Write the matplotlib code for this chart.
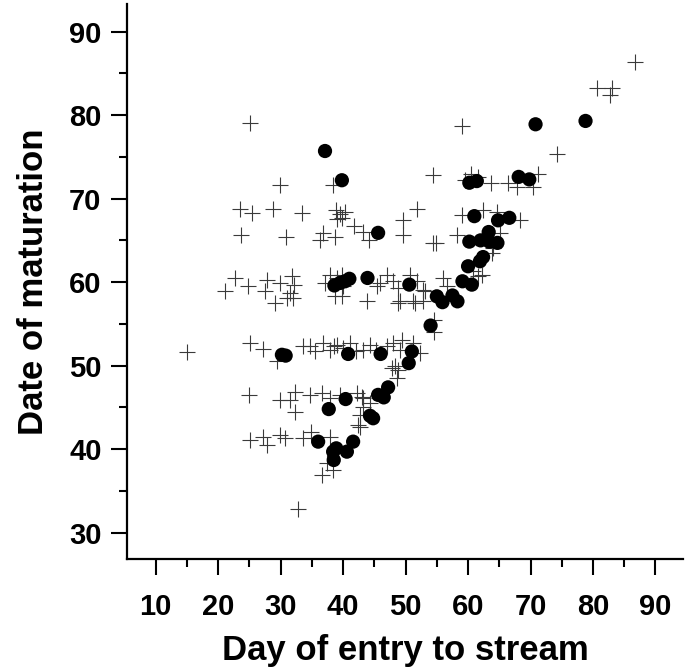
import matplotlib
matplotlib.use("Agg")
import matplotlib.pyplot as plt
from matplotlib.ticker import MultipleLocator

# Crosses (all fish): day of entry, date of maturation
cross_x = [86.7, 80.6, 83.1, 82.7, 74.3, 59.1, 25.1,
           29.9, 38.3, 54.4, 59.5, 60.5, 61.6, 63.6, 66.4, 67.8, 71.2, 70.4,
           23.5, 25.4, 28.8, 33.4, 38.8, 39.5, 40.3, 39.0, 39.8, 41.7, 43.2, 44.1, 49.6, 51.8, 59.0, 62.4, 64.6, 68.3,
           23.6, 30.8, 36.3, 38.7, 36.8, 49.6, 58.2, 54.4, 54.9, 65.1, 64.0, 63.8, 61.6,
           21.1, 22.7, 24.8, 27.8, 27.5, 29.9, 31.8, 31.5, 32.2, 29.1, 31.0, 32.0,
           37.1, 37.9, 39.0, 39.8, 40.0, 38.7, 39.8, 43.8, 45.4, 45.9, 47.0, 48.0, 48.8, 48.8, 50.7, 51.8, 53.1,
           49.1, 51.5, 52.8, 52.8, 51.2, 56.0, 56.6, 60.8, 62.2,
           15.0, 25.1, 27.2, 29.4, 33.6, 34.7, 35.5, 36.8, 37.9, 38.5, 39.0, 40.0, 41.1, 42.0, 43.2, 44.3, 45.2,
           47.0, 48.0, 49.1, 49.5, 51.2, 52.3, 48.3, 47.8, 48.6, 48.8, 54.5, 54.5,
           25.0, 29.9, 31.5, 32.3, 32.3, 34.7, 36.6, 37.9, 39.5, 42.2, 43.2, 43.0, 44.3, 43.2, 42.7, 42.4, 42.7,
           25.1, 27.2, 27.8, 29.9, 30.7, 33.6, 34.9, 37.9, 36.6, 38.4, 37.4, 32.7]
cross_y = [86.4, 83.3, 83.3, 82.4, 75.4, 78.7, 79.0,
           71.6, 71.6, 72.8, 72.2, 73.0, 72.6, 71.9, 71.9, 71.4, 73.0, 71.4,
           68.8, 68.3, 68.8, 68.3, 68.6, 68.2, 68.4, 67.5, 67.7, 66.7, 66.0, 65.1, 67.4, 68.8, 68.0, 68.6, 68.4, 67.4,
           65.6, 65.4, 65.1, 65.4, 65.9, 65.6, 65.6, 64.7, 64.7, 65.9, 64.1, 63.5, 60.7,
           58.9, 60.5, 59.5, 60.3, 58.9, 59.9, 60.7, 58.7, 59.6, 57.5, 58.1, 58.1,
           59.9, 60.9, 60.5, 60.9, 59.5, 58.3, 58.3, 57.7, 59.5, 59.9, 60.9, 60.1, 59.3, 57.5, 60.9, 60.1, 58.9,
           57.7, 57.5, 57.7, 59.1, 57.7, 60.5, 59.5, 61.3, 60.9,
           51.6, 52.7, 52.0, 50.5, 52.3, 52.3, 51.8, 52.7, 51.9, 52.3, 52.5, 52.1, 52.7, 51.8, 51.9, 52.5, 51.9,
           52.4, 52.7, 51.9, 53.1, 52.7, 51.5, 49.9, 49.7, 48.5, 49.5, 55.5, 54.0,
           46.5, 45.9, 45.9, 46.9, 44.5, 46.5, 46.7, 46.1, 46.5, 46.7, 46.1, 46.3, 45.5, 45.1, 44.1, 42.9, 42.7,
           41.1, 41.5, 40.5, 41.7, 41.3, 41.3, 42.1, 41.5, 36.9, 37.5, 38.3, 32.8]

# Filled circles
dot_x = [37.1, 39.8, 45.6, 70.8, 78.8, 60.2, 61.4, 68.1, 69.8, 61.0, 64.8, 66.6,
         60.2, 62.0, 63.3, 63.4, 64.7, 62.4, 61.9, 60.0, 59.1, 60.6, 55.0, 55.9, 57.5, 58.3,
         54.0, 50.6, 43.9, 38.6, 39.5, 40.3, 41.0, 30.2, 30.8, 40.8, 46.0, 51.0, 50.5,
         37.7, 40.4, 44.3, 44.8, 45.6, 46.5, 47.2, 36.0, 38.4, 38.9, 40.6, 41.6, 38.5]
dot_y = [75.7, 72.2, 65.9, 78.9, 79.3, 71.9, 72.1, 72.6, 72.3, 67.9, 67.4, 67.7,
         64.85, 65.0, 66.0, 64.85, 64.7, 63.0, 62.5, 61.9, 60.1, 59.7, 58.3, 57.6, 58.4, 57.7,
         54.8, 59.7, 60.5, 59.6, 59.9, 60.1, 60.4, 51.3, 51.2, 51.4, 51.4, 51.7, 50.3,
         44.8, 46.0, 44.0, 43.7, 46.5, 46.2, 47.4, 40.9, 39.7, 40.1, 39.7, 40.9, 38.7]

x_ticks = [10, 20, 30, 40, 50, 60, 70, 80, 90]
y_ticks = [30, 40, 50, 60, 70, 80, 90]

plt.rcParams['font.family'] = ['Liberation Sans', 'DejaVu Sans']

fig = plt.figure(figsize=(6.91, 6.70), dpi=100)
ax = fig.add_axes([0.1842, 0.1657, 0.8042, 0.8283])

ax.scatter(cross_x, cross_y, marker='+', s=140, c='#3a3a3a', linewidths=0.8, zorder=2)
ax.scatter(dot_x, dot_y, marker='o', s=105, c='black', edgecolors='none', zorder=3)

ax.set_xlim(5.45, 94.4)
ax.set_ylim(26.85, 93.3)
ax.set_xticks(x_ticks)
ax.set_yticks(y_ticks)
ax.xaxis.set_minor_locator(MultipleLocator(5))
ax.yaxis.set_minor_locator(MultipleLocator(5))

for s in ['top', 'right']:
    ax.spines[s].set_visible(False)
for s in ['left', 'bottom']:
    ax.spines[s].set_linewidth(1.6)

ax.tick_params(which='major', direction='out', length=11.5, width=1.5, labelsize=21)
ax.tick_params(which='minor', direction='out', length=5.8, width=1.5)
ax.tick_params(axis='x', which='major', pad=13)
ax.tick_params(axis='y', which='major', pad=7)
for lab in ax.get_xticklabels() + ax.get_yticklabels():
    lab.set_fontweight('bold')

ax.set_xlabel('Day of entry to stream', fontsize=25, fontweight='bold', labelpad=9)
ax.set_ylabel('Date of maturation', fontsize=25, fontweight='bold', labelpad=14)

fig.savefig('out.png', dpi=100)
